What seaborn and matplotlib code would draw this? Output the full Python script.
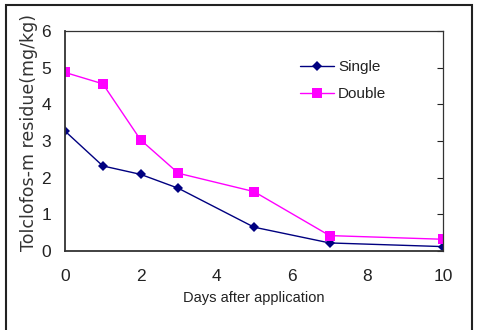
import matplotlib
matplotlib.use("Agg")
import matplotlib.pyplot as plt
import seaborn as sns
import pandas as pd
from matplotlib.patches import Rectangle

days = [0, 1, 2, 3, 5, 7, 10]
single = [3.27, 2.32, 2.09, 1.71, 0.65, 0.22, 0.12]
double = [4.87, 4.56, 3.03, 2.12, 1.62, 0.42, 0.32]
series = ["Single", "Double"]
xticks = [0, 2, 4, 6, 8, 10]
yticks = [0, 1, 2, 3, 4, 5, 6]

df = pd.DataFrame({
    "Days": days * 2,
    "Residue": single + double,
    "Series": [series[0]] * len(days) + [series[1]] * len(days),
})

sns.set_style("white")
plt.rcParams["font.family"] = ["Liberation Sans", "DejaVu Sans"]

W, H = 483, 330
fig = plt.figure(figsize=(W / 100, H / 100), dpi=100)
ax = fig.add_axes([65 / W, 1 - 251 / H, (443 - 65) / W, (251 - 31) / H])

sns.lineplot(data=df, x="Days", y="Residue", hue="Series", style="Series",
             palette={"Single": "#000080", "Double": "#FF00FF"},
             markers={"Single": "D", "Double": "s"},
             dashes={"Single": "", "Double": ""},
             markersize=6, linewidth=1.0, markeredgewidth=0,
             ax=ax, legend=True)
for line in ax.lines:
    if line.get_marker() == "D":
        line.set_markersize(5)
    elif line.get_marker() == "s":
        line.set_markersize(7)

ax.set_xlim(0, 10)
ax.set_ylim(0, 6)
ax.set_xticks(xticks)
ax.set_yticks(yticks)
ax.tick_params(axis="both", direction="in", length=4, width=0.8,
               labelsize=12.5, colors="#222222")
ax.tick_params(axis="x", pad=13)
ax.tick_params(axis="y", pad=10, right=True, which="major", labelright=False)
for s in ax.spines.values():
    s.set_visible(True)
    s.set_color("#333333")
    s.set_linewidth(0.9)
ax.spines["left"].set_linewidth(1.3)
ax.spines["bottom"].set_linewidth(1.3)

ax.set_xlabel("Days after application", fontsize=10.5, color="#222222", labelpad=5)
ax.set_ylabel("")

leg = ax.legend(frameon=False, fontsize=11, loc="upper left",
                bbox_to_anchor=((300 - 65) / (443 - 65), (251 - 60) / (251 - 31)),
                handlelength=2.2, handletextpad=0.3, labelspacing=0.85,
                borderpad=0, borderaxespad=0)
for t in leg.get_texts():
    t.set_color("#222222")

fig.text(29 / W, 1 - 251 / H, "Tolclofos-m residue(mg/kg)", rotation=90,
         ha="center", va="bottom", fontsize=12.5, color="#333333",
         family=["DejaVu Sans"])

fig.patches.append(Rectangle((6 / W, -0.01), (472 - 6) / W, 1 - 5 / H + 0.01,
                             transform=fig.transFigure, fill=False,
                             edgecolor="#222222", linewidth=1.5))

fig.savefig("out.png", dpi=100)
